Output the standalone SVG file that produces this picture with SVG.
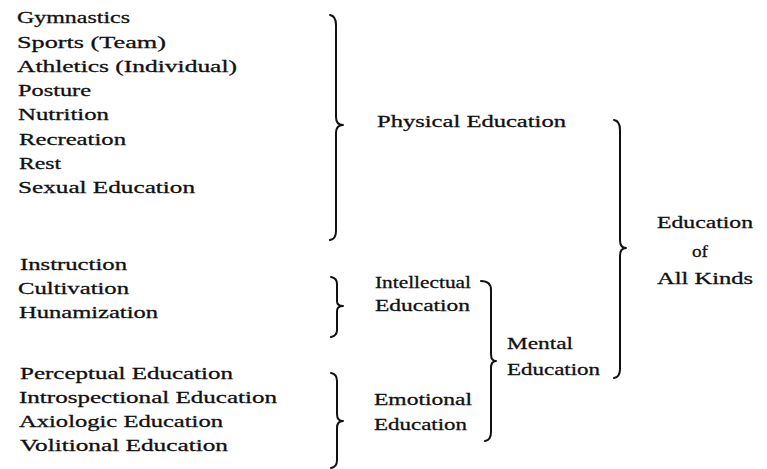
<svg xmlns="http://www.w3.org/2000/svg" width="767" height="469" viewBox="0 0 767 469">
<style>
text{font-family:"Liberation Serif","Times New Roman",serif;font-size:17.5px;fill:#111;stroke:#111;stroke-width:0.3;}
.brace{fill:none;stroke:#111;stroke-width:2;stroke-linecap:round;stroke-linejoin:round;}
</style>
<rect width="767" height="469" fill="#fff"/>
<g id="physical-items">
<text x="17" y="23" textLength="113" lengthAdjust="spacingAndGlyphs">Gymnastics</text>
<text x="17" y="48" textLength="149" lengthAdjust="spacingAndGlyphs">Sports (Team)</text>
<text x="17" y="72" textLength="220" lengthAdjust="spacingAndGlyphs">Athletics (Individual)</text>
<text x="18" y="96" textLength="73" lengthAdjust="spacingAndGlyphs">Posture</text>
<text x="18" y="120" textLength="91" lengthAdjust="spacingAndGlyphs">Nutrition</text>
<text x="19" y="145" textLength="107" lengthAdjust="spacingAndGlyphs">Recreation</text>
<text x="19" y="169" textLength="42" lengthAdjust="spacingAndGlyphs">Rest</text>
<text x="18" y="193" textLength="177" lengthAdjust="spacingAndGlyphs">Sexual Education</text>
</g>
<g id="intellectual-items">
<text x="20" y="270" textLength="107" lengthAdjust="spacingAndGlyphs">Instruction</text>
<text x="18" y="294" textLength="111" lengthAdjust="spacingAndGlyphs">Cultivation</text>
<text x="19" y="318" textLength="139" lengthAdjust="spacingAndGlyphs">Hunamization</text>
</g>
<g id="emotional-items">
<text x="20" y="379" textLength="213" lengthAdjust="spacingAndGlyphs">Perceptual Education</text>
<text x="19" y="403" textLength="258" lengthAdjust="spacingAndGlyphs">Introspectional Education</text>
<text x="19" y="427" textLength="204" lengthAdjust="spacingAndGlyphs">Axiologic Education</text>
<text x="20" y="451" textLength="208" lengthAdjust="spacingAndGlyphs">Volitional Education</text>
</g>
<g id="physical-education">
<text x="377" y="127" textLength="189" lengthAdjust="spacingAndGlyphs">Physical Education</text>
</g>
<g id="intellectual-education">
<text x="375" y="288" textLength="96" lengthAdjust="spacingAndGlyphs">Intellectual</text>
<text x="375" y="311" textLength="95" lengthAdjust="spacingAndGlyphs">Education</text>
</g>
<g id="emotional-education">
<text x="374" y="405" textLength="98" lengthAdjust="spacingAndGlyphs">Emotional</text>
<text x="374" y="430" textLength="93" lengthAdjust="spacingAndGlyphs">Education</text>
</g>
<g id="mental-education">
<text x="507" y="349" textLength="66" lengthAdjust="spacingAndGlyphs">Mental</text>
<text x="507" y="375" textLength="93" lengthAdjust="spacingAndGlyphs">Education</text>
</g>
<g id="education-of-all-kinds">
<text x="657" y="228" textLength="96" lengthAdjust="spacingAndGlyphs">Education</text>
<text x="692" y="257" textLength="16" lengthAdjust="spacingAndGlyphs">of</text>
<text x="657" y="284" textLength="96" lengthAdjust="spacingAndGlyphs">All Kinds</text>
</g>
<g id="connectors">
<path class="brace" d="M330 15 Q336 16 336 25 L336 117 Q336 125 343 125 Q336 125 336 133 L336 231 Q336 239 330 240"/>
<path class="brace" d="M331 277 Q337 278 337 284 L337 301 Q337 306 343 306 Q337 306 337 311 L337 330 Q337 336 331 337"/>
<path class="brace" d="M331 373 Q337 374 337 381 L337 414 Q337 421 343 421 Q337 421 337 428 L337 460 Q337 467 331 468"/>
<path class="brace" d="M481 281 Q491 281 491 290 L491 354 Q491 361 496 361 Q491 361 491 368 L491 432 Q491 440 485 441"/>
<path class="brace" d="M614 120 Q620 121 620 130 L620 240 Q620 248 626 248 Q620 248 620 256 L620 369 Q620 377 614 378"/>
</g>
</svg>
